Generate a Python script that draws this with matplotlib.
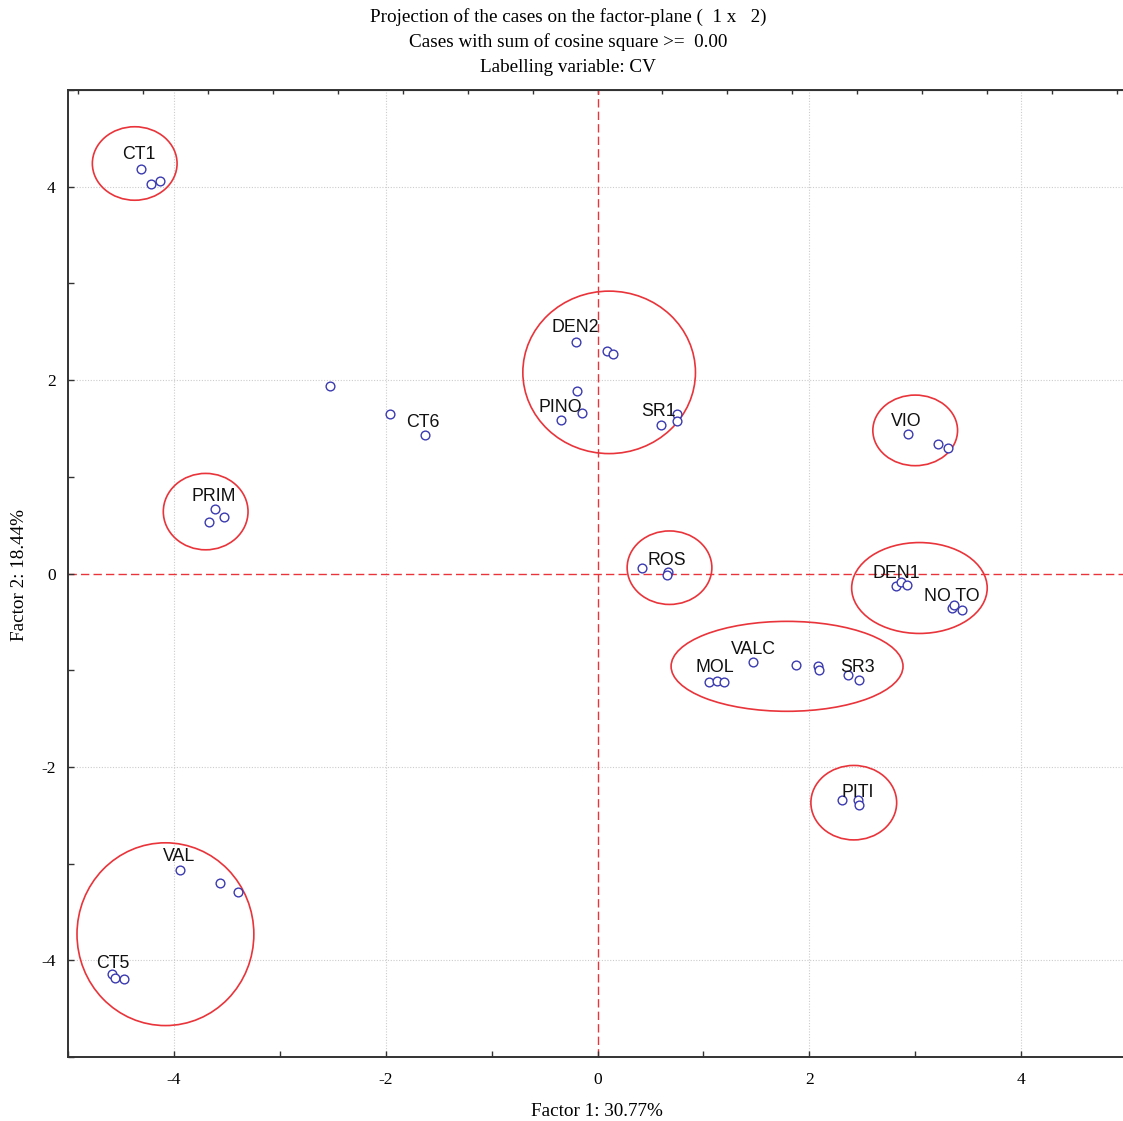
#!/usr/bin/env python3
"""Projection of the cases on the factor-plane (1 x 2), with group ellipses."""

import numpy as np
import matplotlib.pyplot as plt
from matplotlib.patches import Ellipse

plt.rcParams["axes.unicode_minus"] = False

# case coordinates (Factor 1, Factor 2)
case_x = [-4.31, -4.22, -4.13,
          -0.20, 0.085, 0.15, -0.19, -0.15, -0.34, 0.60, 0.75, 0.75,
          -2.53, -1.96, -1.63,
          -3.61, -3.53, -3.67,
          2.93, 3.22, 3.31,
          0.42, 0.67, 0.66,
          2.82, 2.87, 2.92, 3.35, 3.37, 3.44,
          1.05, 1.13, 1.19, 1.47, 1.87, 2.08, 2.09, 2.37, 2.47,
          2.31, 2.46, 2.47,
          -3.94, -3.56, -3.39, -4.58, -4.56, -4.47]
case_y = [4.18, 4.03, 4.06,
          2.39, 2.30, 2.27, 1.89, 1.66, 1.59, 1.54, 1.65, 1.58,
          1.94, 1.65, 1.43,
          0.67, 0.58, 0.53,
          1.44, 1.34, 1.30,
          0.06, 0.02, -0.02,
          -0.13, -0.09, -0.12, -0.36, -0.33, -0.38,
          -1.12, -1.11, -1.12, -0.92, -0.95, -0.96, -1.00, -1.05, -1.10,
          -2.34, -2.34, -2.39,
          -3.07, -3.20, -3.29, -4.14, -4.18, -4.19]

# labels of the CV variable
label_text = ["CT1", "DEN2", "PINO", "SR1", "CT6", "PRIM", "VIO", "ROS",
              "DEN1", "NO TO", "VALC", "MOL", "SR3", "PITI", "VAL", "CT5"]
label_x = [-4.33, -0.21, -0.35, 0.58, -1.65, -3.62, 2.92, 0.65,
           2.82, 3.35, 1.47, 1.11, 2.46, 2.46, -3.95, -4.58]
label_y = [4.33, 2.54, 1.72, 1.68, 1.56, 0.80, 1.57, 0.13,
           0.00, -0.24, -0.79, -0.97, -0.97, -2.26, -2.93, -4.03]

# group ellipses: centre x, centre y, width, height
ell_cx = [-4.37, 0.11, -3.70, 3.00, 0.68, 3.04, 1.79, 2.42, -4.08]
ell_cy = [4.24, 2.08, 0.64, 1.48, 0.06, -0.15, -0.96, -2.37, -3.73]
ell_w = [0.80, 1.63, 0.80, 0.80, 0.80, 1.28, 2.19, 0.81, 1.67]
ell_h = [0.76, 1.68, 0.79, 0.73, 0.76, 0.94, 0.93, 0.77, 1.89]

SERIF = "Liberation Serif"
SANS = "Liberation Sans"
RED = "#e8343a"


def main():
    fig = plt.figure(figsize=(11.23, 11.21), dpi=100)
    ax = fig.add_axes([68 / 1123, 1 - 1057 / 1121, (1127 - 68) / 1123, (1057 - 90) / 1121])

    ax.set_xlim(-5, 5)
    ax.set_ylim(-5, 5)

    # grid and zero lines
    for v in (-4, -2, 2, 4):
        ax.axvline(v, color="#cccccc", lw=0.8, ls=(0, (1, 1.5)), zorder=0)
        ax.axhline(v, color="#cccccc", lw=0.8, ls=(0, (1, 1.5)), zorder=0)
    ax.axvline(0, color=RED, lw=1.0, ls=(0, (6, 3)), zorder=1)
    ax.axhline(0, color=RED, lw=1.0, ls=(0, (6, 3)), zorder=1)

    for cx, cy, w, h in zip(ell_cx, ell_cy, ell_w, ell_h):
        ax.add_patch(Ellipse((cx, cy), w, h, fill=False, edgecolor=RED, lw=1.2, zorder=2))

    ax.plot(case_x, case_y, "o", ms=6.3, mfc="white", mec="#3a3ab0", mew=1.0,
            ls="none", zorder=3)

    for t, x, y in zip(label_text, label_x, label_y):
        ax.text(x, y, t, ha="center", va="center", fontsize=12.8, family=SANS,
                color="#111111", zorder=4)

    ax.set_xticks([-4, -2, 0, 2, 4])
    ax.set_yticks([-4, -2, 0, 2, 4])
    ax.set_xticks(np.arange(-5, 6, 1), minor=True)
    ax.set_yticks(np.arange(-5, 6, 1), minor=True)
    ax.tick_params(which="both", direction="in", length=4, width=1, color="#333333")
    ax.tick_params(axis="x", pad=11)
    ax.tick_params(axis="y", pad=9)
    for lbl in ax.get_xticklabels() + ax.get_yticklabels():
        lbl.set_family(SERIF)
        lbl.set_fontsize(12.5)

    for s in ax.spines.values():
        s.set_linewidth(1.4)
        s.set_color("#333333")

    # odd ticks on the top and right frame
    top = ax.secondary_xaxis("top")
    top.set_xticks(np.arange(-8, 9) * 0.613)
    top.set_xticklabels([])
    top.tick_params(direction="in", length=3, width=1, color="#333333")
    right = ax.secondary_yaxis("right")
    right.set_yticks([k * 1.245 for k in (-3, -2, -1, 1, 2, 3)])
    right.set_yticklabels([])
    right.tick_params(direction="in", length=3, width=1, color="#333333")

    fig.text(568 / 1123, 1 - 17 / 1121, "Projection of the cases on the factor-plane (  1 x   2)",
             ha="center", va="center", fontsize=13.8, family=SERIF)
    fig.text(568 / 1123, 1 - 42 / 1121, "Cases with sum of cosine square >=  0.00",
             ha="center", va="center", fontsize=13.8, family=SERIF)
    fig.text(568 / 1123, 1 - 68 / 1121, "Labelling variable: CV",
             ha="center", va="center", fontsize=13.8, family=SERIF)
    fig.text(597 / 1123, 1 - 1111 / 1121, "Factor 1: 30.77%",
             ha="center", va="center", fontsize=13.8, family=SERIF)
    fig.text(20 / 1123, 1 - 575 / 1121, "Factor 2: 18.44%", rotation=90,
             ha="center", va="center", fontsize=13.8, family=SERIF)

    fig.savefig("out.png", dpi=100)


if __name__ == "__main__":
    main()
